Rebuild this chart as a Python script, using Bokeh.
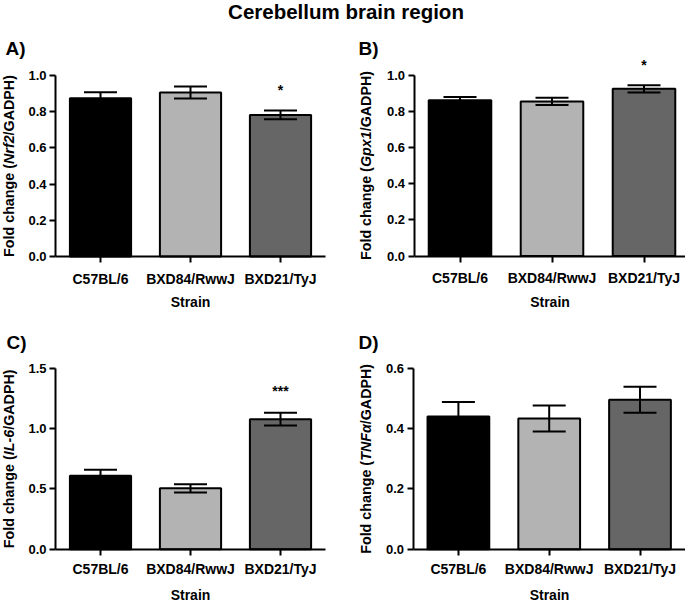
import math
from bokeh.plotting import figure
from bokeh.models import (ColumnDataSource, Whisker, TeeHead, FixedTicker, Label,
                          PrintfTickFormatter, LinearAxis, Range1d)
from bokeh.embed import file_html
from bokeh.resources import INLINE
from bokeh.core.properties import value

FONT = "Liberation Sans"

# ---------------- data ----------------
strains = ["C57BL/6", "BXD84/RwwJ", "BXD21/TyJ"]
bar_colors = ["#000000", "#b3b3b3", "#666666"]

nrf2_mean = [0.875, 0.906, 0.782]
nrf2_sem = [0.033, 0.033, 0.024]
nrf2_sig = ["", "", "*"]

gpx1_mean = [0.861, 0.854, 0.924]
gpx1_sem = [0.018, 0.020, 0.020]
gpx1_sig = ["", "", "*"]

il6_mean = [0.609, 0.505, 1.079]
il6_sem = [0.050, 0.034, 0.053]
il6_sig = ["", "", "***"]

tnfa_mean = [0.441, 0.434, 0.496]
tnfa_sem = [0.048, 0.043, 0.043]
tnfa_sig = ["", "", ""]

nrf2_ticks = [0.0, 0.2, 0.4, 0.6, 0.8, 1.0]
gpx1_ticks = [0.0, 0.2, 0.4, 0.6, 0.8, 1.0]
il6_ticks = [0.0, 0.5, 1.0, 1.5]
tnfa_ticks = [0.0, 0.2, 0.4, 0.6]

# Arial/Liberation Sans Bold advance widths (per 1000 em)
CW = {"F": 611, "o": 611, "l": 278, "d": 611, " ": 278, "c": 556, "h": 611, "a": 556,
      "n": 611, "g": 611, "e": 556, "(": 333, ")": 333, "N": 722, "r": 389, "f": 333,
      "2": 556, "/": 278, "G": 778, "A": 722, "D": 722, "P": 667, "H": 722, "p": 611,
      "x": 556, "1": 556, "I": 278, "L": 611, "-": 333, "6": 556, "T": 611, "α": 615}


def text_w(s, size):
    return sum(CW.get(ch, 556) for ch in s) * size / 1000.0


# ---------------- canvas (one figure, pixel coordinates by default) ----------------
W, H = 685, 606
PX0, PY0 = 0, 0          # page position of the canvas


def cx(page_x):
    return page_x - PX0


def cy(page_y):
    return (PY0 + H) - page_y


p = figure(width=W, height=H, x_range=Range1d(0, W), y_range=Range1d(0, H),
           toolbar_location=None, output_backend="svg", min_border=0,
           x_axis_location=None, y_axis_location=None)
p.outline_line_color = None
p.xgrid.grid_line_color = None
p.ygrid.grid_line_color = None
p.background_fill_color = "white"
p.border_fill_color = "white"

p.add_layout(Label(x=cx(345.5), y=cy(10.7), text="Cerebellum brain region",
                   text_font=FONT, text_font_style="bold", text_font_size="20.5px",
                   text_color="black", text_align="center", text_baseline="middle"))


def style_axis(ax, label_size, standoff):
    ax.major_label_text_font = FONT
    ax.major_label_text_font_style = "bold"
    ax.major_label_text_font_size = label_size
    ax.major_label_text_color = "black"
    ax.major_label_standoff = standoff
    ax.axis_line_width = 2
    ax.axis_line_color = "black"
    ax.major_tick_line_width = 2
    ax.major_tick_line_color = "black"
    ax.major_tick_out = 6
    ax.major_tick_in = 0
    ax.minor_tick_line_color = None


def panel(name, letter, gene, means, sems, sig, ticks, geom):
    (x_left, x_unit, x_axis_end, y_zero, y_top_px, letter_xy, label_cx,
     star_y, lab_standoff, title_standoff) = geom
    top_tick = ticks[-1]
    # x range: data -0.5 at x_left, x_unit pixels per category
    xs0 = -0.5 - (x_left - PX0) / x_unit
    xs1 = -0.5 + (PX0 + W - x_left) / x_unit
    k = (y_zero - y_top_px) / top_tick
    ys0 = -(PY0 + H - y_zero) / k
    ys1 = (y_zero - PY0) / k
    xn, yn = name + "_x", name + "_y"
    p.extra_x_ranges[xn] = Range1d(xs0, xs1)
    p.extra_y_ranges[yn] = Range1d(ys0, ys1)

    xs = list(range(len(strains)))
    src = ColumnDataSource(dict(x=xs, top=means, color=bar_colors,
                                upper=[m + s for m, s in zip(means, sems)],
                                lower=[m - s for m, s in zip(means, sems)]))
    p.vbar(x="x", top="top", bottom=0, width=0.68, fill_color="color",
           line_color="black", line_width=2, source=src,
           x_range_name=xn, y_range_name=yn)
    p.add_layout(Whisker(base="x", upper="upper", lower="lower", source=src,
                         x_range_name=xn, y_range_name=yn,
                         line_color="black", line_width=2, level="annotation",
                         upper_head=TeeHead(size=33, line_color="black", line_width=2),
                         lower_head=TeeHead(size=33, line_color="black", line_width=2)))

    sx = [x for x, s in zip(xs, sig) if s]
    st = [s for s in sig if s]
    if st:
        p.text(x=sx, y=[star_y] * len(sx), text=st, text_font=value(FONT),
               text_font_style="bold", text_font_size="14px", text_color="black",
               text_align="center", text_baseline="middle",
               x_range_name=xn, y_range_name=yn)

    xa = LinearAxis(x_range_name=xn, y_range_name=yn, fixed_location=0.0,
                    ticker=FixedTicker(ticks=xs), bounds=(-0.5, x_axis_end))
    xa.major_label_overrides = {i: s for i, s in enumerate(strains)}
    style_axis(xa, "14px", lab_standoff)
    xa.axis_label = "Strain"
    xa.axis_label_text_font = FONT
    xa.axis_label_text_font_style = "bold"
    xa.axis_label_text_font_size = "14px"
    xa.axis_label_text_color = "black"
    xa.axis_label_standoff = title_standoff
    p.add_layout(xa, "below")

    ya = LinearAxis(x_range_name=xn, y_range_name=yn, fixed_location=-0.5,
                    ticker=FixedTicker(ticks=ticks), bounds=(0, top_tick),
                    formatter=PrintfTickFormatter(format="%.1f"))
    style_axis(ya, "13px", 3)
    p.add_layout(ya, "left")

    # panel letter
    p.add_layout(Label(x=cx(letter_xy[0]), y=cy(letter_xy[1]), text=letter,
                       text_font=FONT, text_font_style="bold", text_font_size="19px",
                       text_color="black", text_align="left", text_baseline="middle"))

    # rotated y-axis title with the gene name in italics
    pieces = [("Fold change (", "bold"), (gene, "bold italic"), ("/GADPH)", "bold")]
    fs = 14.3
    total = sum(text_w(t, fs) for t, _ in pieces)
    start = (y_zero + y_top_px) / 2.0 + total / 2.0
    for t, style in pieces:
        p.add_layout(Label(x=cx(label_cx), y=cy(start), text=t, angle=math.pi / 2,
                           text_font=FONT, text_font_style=style,
                           text_font_size=f"{fs}px", text_color="black",
                           text_align="left", text_baseline="middle"))
        start -= text_w(t, fs)


# geometry: x_left, px per category, x-axis end, y of 0, y of top tick,
#           letter pos (left, vertical centre), y-title centre x,
#           star position (data), tick-label standoff, axis-title standoff
panel("a", "A)", "Nrf2", nrf2_mean, nrf2_sem, nrf2_sig, nrf2_ticks,
      (55, 90.0, 2.5, 256, 75, (5, 48.3), 8, 0.919, 8, 4))
panel("b", "B)", "Gpx1", gpx1_mean, gpx1_sem, gpx1_sig, gpx1_ticks,
      (413.5, 92.0, 2.5, 255.5, 74.5, (358, 48.3), 365, 1.054, 8, 4))
panel("c", "C)", "IL-6", il6_mean, il6_sem, il6_sig, il6_ticks,
      (55, 90.0, 2.5, 548.7, 368, (6, 341.5), 8, 1.316, 6, 6))
panel("d", "D)", "TNFα", tnfa_mean, tnfa_sem, tnfa_sig, tnfa_ticks,
      (412.5, 90.8, 2.5, 548.7, 368, (358, 342), 365, 0.0, 6, 6))

open("out.html", "w").write(file_html(p, INLINE))
